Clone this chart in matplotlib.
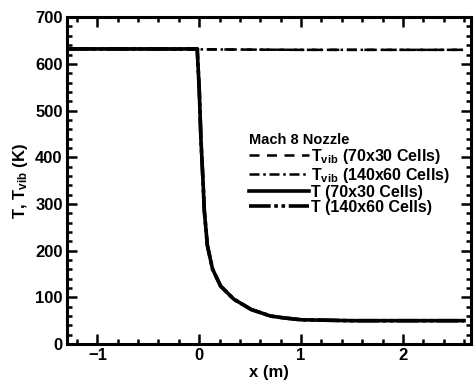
import matplotlib
matplotlib.use("Agg")
import matplotlib.pyplot as plt
from matplotlib.ticker import MultipleLocator

plt.rcParams['font.family'] = ['Liberation Sans', 'DejaVu Sans']
plt.rcParams['font.weight'] = 'bold'
plt.rcParams['mathtext.default'] = 'regular'

# Translational temperature along the nozzle axis
x_t = [-1.3, -0.02, 0.0, 0.017, 0.04, 0.05, 0.08, 0.13, 0.21, 0.34, 0.51,
       0.7, 0.83, 1.0, 1.5, 2.0, 2.6]
t_70x30 = [632, 632, 545, 437, 336, 285, 211, 161, 124, 96, 74,
           60, 56, 52, 50, 50, 50]
t_140x60 = [632, 632, 545, 437, 336, 285, 211, 161, 124, 96, 74,
            60, 56, 52, 50, 50, 50]

# Vibrational temperature (frozen downstream of the throat)
x_vib = [-1.3, 0.0, 1.0, 2.0, 2.6]
tvib_70x30 = [632, 631, 630, 630, 630]
tvib_140x60 = [632, 631, 630, 630, 630]

fig = plt.figure(figsize=(4.74, 3.81), dpi=100)
ax = fig.add_axes([0.141, 0.097, 0.853, 0.858])

ax.plot(x_vib, tvib_70x30, color='black', lw=1.8, ls=(0, (4, 3)),
        label='T$_{vib}$ (70x30 Cells)')
ax.plot(x_vib, tvib_140x60, color='black', lw=1.8, ls=(0, (4, 1.5, 1, 1.5)),
        label='T$_{vib}$ (140x60 Cells)')
ax.plot(x_t, t_70x30, color='black', lw=2.6, ls='-',
        label='T (70x30 Cells)')
ax.plot(x_t, t_140x60, color='black', lw=2.6, ls=(0, (6, 1, 1, 1, 1, 1)),
        label='T (140x60 Cells)')

ax.set_xlim(-1.3, 2.67)
ax.set_ylim(0, 700)
ax.xaxis.set_major_locator(MultipleLocator(1))
ax.xaxis.set_minor_locator(MultipleLocator(0.2))
ax.yaxis.set_major_locator(MultipleLocator(100))
ax.yaxis.set_minor_locator(MultipleLocator(20))
ax.tick_params(which='both', direction='in', top=True, right=True,
               labelsize=12, width=1.8)
ax.tick_params(which='major', length=7, pad=3)
ax.tick_params(which='minor', length=3.5)
for s in ax.spines.values():
    s.set_linewidth(2.2)

ax.set_xlabel('x (m)', fontsize=12, fontweight='bold', labelpad=1)
ax.set_ylabel('T, T$_{vib}$ (K)', fontsize=12, fontweight='bold', labelpad=4)

leg = ax.legend(loc='upper left', bbox_to_anchor=(0.43, 0.67), frameon=False,
                title='Mach 8 Nozzle', fontsize=11.5, title_fontsize=10.5,
                handlelength=3.8, handletextpad=0.1, labelspacing=0.0,
                borderpad=0, alignment='left')
leg.get_title().set_fontweight('bold')

fig.savefig('out.png', dpi=100)
